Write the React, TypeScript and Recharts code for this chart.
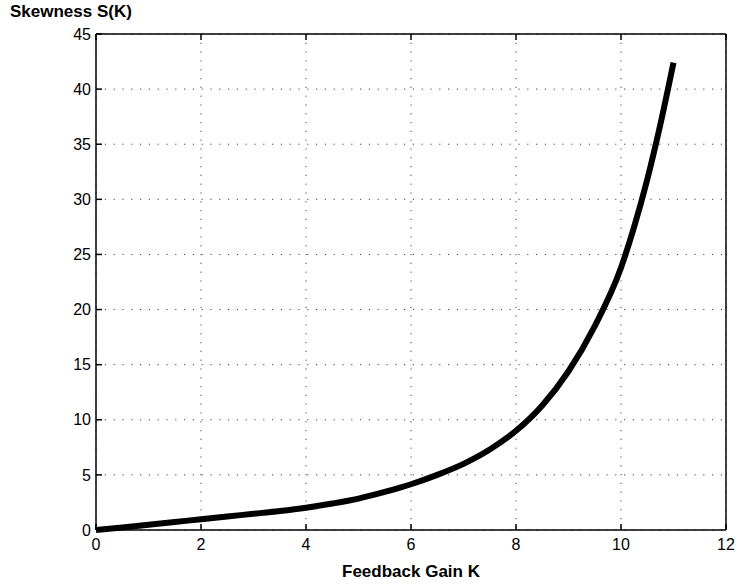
import {
  LineChart,
  Line,
  XAxis,
  YAxis,
  CartesianGrid,
} from 'recharts'

// feedback gain K and skewness S(K)
const gainK = [0, 0.5, 1, 1.5, 2, 2.5, 3, 3.5, 4, 4.5, 5, 5.5, 6, 6.5, 7, 7.5, 8, 8.5, 9, 9.5, 10, 10.25, 10.5, 10.75, 11]
const skewness = [0, 0.23, 0.47, 0.72, 0.98, 1.23, 1.47, 1.72, 2.02, 2.4, 2.85, 3.45, 4.15, 5.0, 6.0, 7.3, 9.0, 11.3, 14.4, 18.5, 23.8, 27.5, 31.8, 36.8, 42.4]

const xTicks = [0, 2, 4, 6, 8, 10, 12]
const yTicks = [0, 5, 10, 15, 20, 25, 30, 35, 40, 45]

const data = gainK.map((k, i) => ({ k, s: skewness[i] }))

const font = '"Liberation Sans", Arial, Helvetica, sans-serif'
const tickStyle = { fontSize: 16, fill: '#000', fontFamily: font }
const blank = () => ''

export default function App() {
  return (
    <div style={{ position: 'absolute', left: 0, top: 0, width: 738, height: 586, background: '#fff', fontFamily: font }}>
      <div
        style={{
          position: 'absolute',
          left: 10,
          top: 2,
          fontSize: 17,
          fontWeight: 700,
          color: '#000',
        }}
      >
        Skewness S(K)
      </div>
      <LineChart
        width={738}
        height={586}
        data={data}
        margin={{ top: 33, right: 11, bottom: 16, left: 56 }}
      >
        <CartesianGrid
          xAxisId="bottom"
          yAxisId="left"
          stroke="#444"
          strokeDasharray="1.2 7.6"
        />
        <XAxis
          xAxisId="bottom"
          dataKey="k"
          type="number"
          domain={[0, 12]}
          ticks={xTicks}
          height={40}
          stroke="#000"
          strokeWidth={1.5}
          tickSize={-6}
          tickMargin={15}
          tick={tickStyle}
          label={{
            value: 'Feedback Gain K',
            position: 'insideBottom',
            offset: -7,
            style: { fontSize: 17, fontWeight: 700, fill: '#000', fontFamily: font },
          }}
        />
        <XAxis
          xAxisId="top"
          orientation="top"
          dataKey="k"
          type="number"
          domain={[0, 12]}
          ticks={xTicks}
          height={1}
          stroke="#000"
          strokeWidth={1.5}
          tickSize={-6}
          tickFormatter={blank}
        />
        <YAxis
          yAxisId="left"
          type="number"
          domain={[0, 45]}
          ticks={yTicks}
          width={40}
          stroke="#000"
          strokeWidth={1.5}
          tickSize={-6}
          tickMargin={11}
          tick={tickStyle}
        />
        <YAxis
          yAxisId="right"
          orientation="right"
          type="number"
          domain={[0, 45]}
          ticks={yTicks}
          width={1}
          stroke="#000"
          strokeWidth={1.5}
          tickSize={-6}
          tickFormatter={blank}
        />
        <Line
          xAxisId="bottom"
          yAxisId="left"
          type="monotone"
          dataKey="s"
          stroke="#000"
          strokeWidth={6}
          dot={false}
          isAnimationActive={false}
        />
      </LineChart>
    </div>
  )
}
